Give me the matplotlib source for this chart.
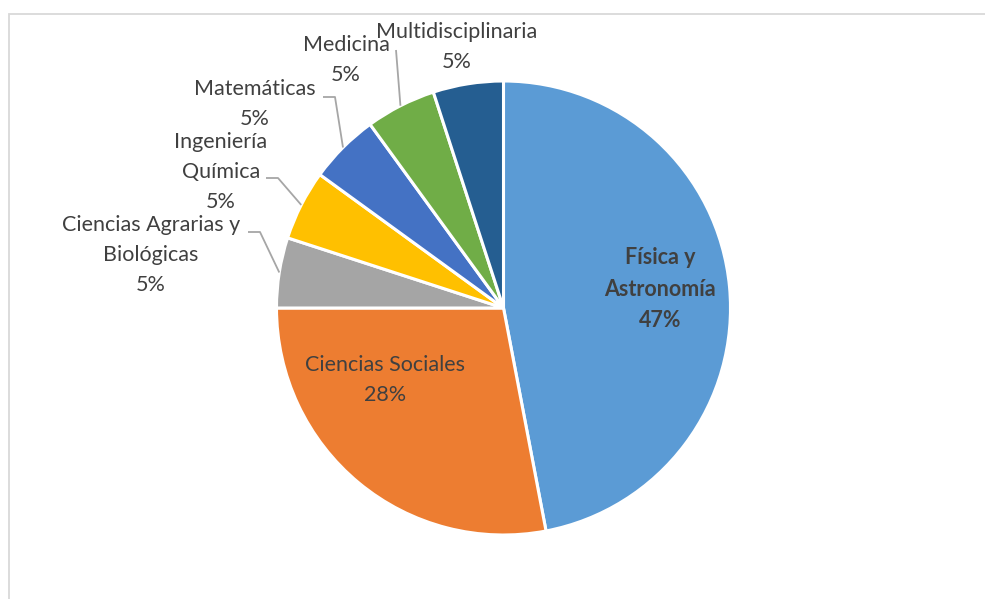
import numpy as np
import matplotlib.pyplot as plt
from matplotlib.patches import Rectangle

# Distribution of publications by area
areas = ['Física y\nAstronomía', 'Ciencias Sociales', 'Ciencias Agrarias y\nBiológicas',
         'Ingeniería\nQuímica', 'Matemáticas', 'Medicina', 'Multidisciplinaria']
shares = [47, 28, 5, 5, 5, 5, 5]
colors = ['#5B9BD5', '#ED7D31', '#A5A5A5', '#FFC000', '#4472C4', '#70AD47', '#255E91']

W, H = 985, 599
plt.rcParams['font.family'] = ['Lato', 'DejaVu Sans']

fig = plt.figure(figsize=(W / 100, H / 100), dpi=100)
ax = fig.add_axes([0, 0, 1, 1])

cx, cy, r = 503.5, H - 308, 227
wedges, _ = ax.pie(shares, colors=colors, startangle=90, counterclock=False,
                   center=(cx, cy), radius=r, frame=True,
                   wedgeprops=dict(edgecolor='white', linewidth=2.2))
ax.set_xlim(0, W)
ax.set_ylim(0, H)
ax.axis('off')

# label block centres (px from top-left) and leader-line starts
label_pos = [(660, 289), (385, 380), (151, 255), (221, 172), (255, 104), (346, 60), (457, 47)]
leader_start = [None, None, (248, 232), (266, 178), (323, 97), (396, 50), None]
text_col = '#404040'

for i, (w, name, val) in enumerate(zip(wedges, areas, shares)):
    lx, ly = label_pos[i]
    ax.text(lx, H - ly, f'{name}\n{val}%', ha='center', va='center', fontsize=15.5,
            color=text_col, linespacing=1.62,
            fontweight='bold' if i == 0 else 'normal')
    if leader_start[i] is not None:
        ang = np.deg2rad((w.theta1 + w.theta2) / 2)
        ex, ey = cx + r * np.cos(ang), cy + r * np.sin(ang)
        sx, sy = leader_start[i]
        sy = H - sy
        if i == 5:
            xs, ys = [sx, ex], [sy, ey]
        else:
            xs, ys = [sx, sx + 12, ex], [sy, sy, ey]
        ax.plot(xs, ys, color='#A6A6A6', lw=1.3, solid_capstyle='butt')

# chart area border
ax.add_patch(Rectangle((8.5, -20), W + 20, H - 14 + 20, fill=False,
                       edgecolor='#D9D9D9', lw=1.3, clip_on=False))

fig.savefig('out.png', dpi=100)
